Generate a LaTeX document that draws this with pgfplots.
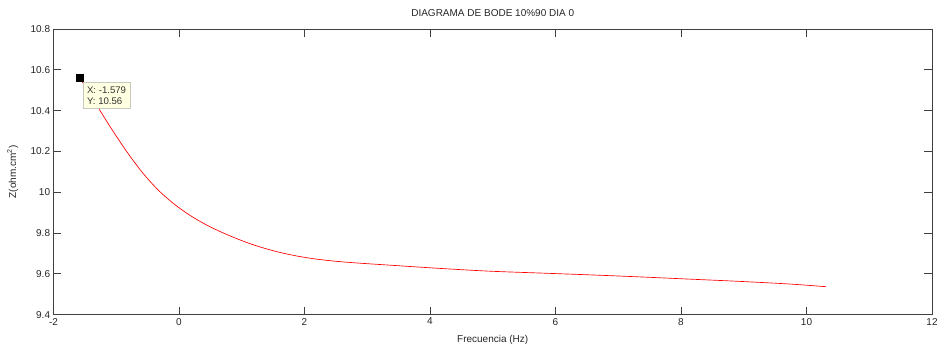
\documentclass[border=0pt]{standalone}
\usepackage{pgfplots}
\pgfplotsset{compat=1.18}
\usepackage{fontspec}
\setmainfont{Liberation Sans}
\definecolor{axgray}{RGB}{64,64,64}
\definecolor{tipbg}{RGB}{255,255,225}
\definecolor{tipborder}{RGB}{200,200,190}
\begin{document}
\begin{tikzpicture}
\useasboundingbox (-40.1pt,-25.7pt) rectangle (666.4pt,236.0pt);
\begin{axis}[
  at={(0,0)}, anchor=south west,
  scale only axis,
  width=658.9pt, height=214.3pt,
  xmin=-2, xmax=12, ymin=9.4, ymax=10.8,
  xtick={-2,0,...,12},
  ytick={9.4,9.6,...,10.81},
  yticklabels={9.4,9.6,9.8,10,10.2,10.4,10.6,10.8},
  tick align=inside,
  major tick length=6pt,
  tick style={axgray, line width=0.6pt},
  axis line style={axgray, line width=0.6pt},
  xticklabel style={font=\fontsize{7.5}{9}\selectfont, text=black!85, yshift=1pt},
  yticklabel style={font=\fontsize{7.5}{9}\selectfont, text=black!85, xshift=1pt},
  /pgf/number format/assume math mode=true,
  title={DIAGRAMA DE BODE 10\%90 DIA 0},
  title style={font=\fontsize{7.5}{9}\selectfont, text=black!85, yshift=0pt},
  xlabel={Frecuencia (Hz)},
  ylabel={Z(ohm.cm\textsuperscript{2})},
  xlabel style={font=\fontsize{7.5}{9}\selectfont, text=black!85, yshift=-0.5pt},
  ylabel style={font=\fontsize{7.5}{9}\selectfont, text=black!85, yshift=2.5pt},
  clip=false,
]
\addplot[red, line width=0.5pt, smooth, tension=0.5] coordinates {
(-1.579,10.560)
(-1.329,10.435)
(-1.079,10.3125)
(-0.829,10.1975)
(-0.579,10.095)
(-0.329,10.010)
(-0.079,9.9425)
(0.171,9.8875)
(0.421,9.8425)
(0.671,9.805)
(0.921,9.7725)
(1.171,9.7438)
(1.421,9.720)
(1.671,9.7005)
(1.921,9.685)
(2.171,9.673)
(2.421,9.664)
(2.671,9.657)
(3.000,9.6498)
(3.363,9.6425)
(4.159,9.6266)
(4.956,9.613)
(5.753,9.604)
(6.550,9.595)
(7.347,9.585)
(8.144,9.574)
(8.941,9.563)
(9.738,9.550)
(10.311,9.537)
};
\addplot[black, only marks, mark=square*, mark size=2.5pt] coordinates {(-1.579,10.56)};
\node[anchor=north west, draw=tipborder, fill=tipbg, line width=0.6pt,
      font=\fontsize{7.2}{8.3}\selectfont, align=left, inner sep=3pt,
      text=black!80]
  at (axis cs:-1.579,10.56) [xshift=2.1pt, yshift=-3pt]
  {X: -1.579\\Y: 10.56};
\end{axis}
\end{tikzpicture}
\end{document}
